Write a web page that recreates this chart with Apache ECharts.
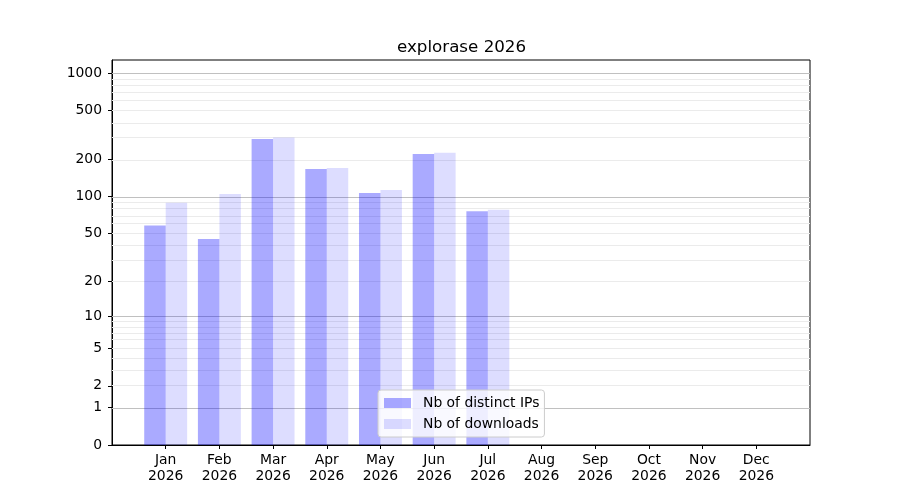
<!DOCTYPE html>
<html>
<head>
<meta charset="utf-8">
<script src="https://cdn.jsdelivr.net/npm/echarts@6/dist/echarts.min.js"></script>
<style>
  html, body { margin: 0; padding: 0; background: #fff; }
  #container { width: 900px; height: 500px; }
</style>
</head>
<body>
<div id="container"></div>
<script>
var months = ['Jan', 'Feb', 'Mar', 'Apr', 'May', 'Jun', 'Jul', 'Aug', 'Sep', 'Oct', 'Nov', 'Dec'];
var year = '2026';
var distinctIPs = [58, 45, 294, 168, 107, 222, 76, 0, 0, 0, 0, 0];
var downloads = [89, 105, 302, 171, 113, 227, 78, 0, 0, 0, 0, 0];
var yTicks = [0, 1, 2, 5, 10, 20, 50, 100, 200, 500, 1000];
var majorGrid = [1, 10, 100, 1000];
var minorGrid = [2, 3, 4, 5, 6, 7, 8, 9, 20, 30, 40, 50, 60, 70, 80, 90, 200, 300, 400, 500, 600, 700, 800, 900];

// y scale is log10(1 + x)
function tf(v) { return Math.log10(1 + v); }

// one empty slot on each side, like the reference x range
var cats = [''].concat(months.map(function (m) { return m + '\n' + year; })).concat(['']);
function pad(arr) { return [null].concat(arr.map(tf)).concat([null]); }

var font = 'DejaVu Sans';
var fs = 13.9;
var dom = document.getElementById('container');
var myChart = echarts.init(dom);

var gridLines = majorGrid.map(function (v) {
    return { yAxis: tf(v), lineStyle: { color: '#c0c0c0', width: 1, type: 'solid' } };
}).concat(minorGrid.map(function (v) {
    return { yAxis: tf(v), lineStyle: { color: '#ebebeb', width: 1, type: 'solid' } };
}));

var option = {
    animation: false,
    textStyle: { fontFamily: font },
    title: {
        text: 'explorase ' + year,
        left: 397,
        top: 39,
        padding: 0,
        textStyle: { fontFamily: font, fontSize: 16.7, fontWeight: 'normal', color: '#000' }
    },
    legend: {
        orient: 'vertical',
        left: 378,
        bottom: 63,
        itemWidth: 27,
        itemHeight: 10,
        itemGap: 5,
        padding: [5, 5, 5, 6],
        backgroundColor: 'rgba(255,255,255,0.8)',
        borderColor: '#cccccc',
        borderWidth: 1,
        borderRadius: 3,
        icon: 'rect',
        textStyle: { fontFamily: font, fontSize: fs, color: '#000', lineHeight: 16, padding: [0, 0, 0, 7] },
        data: ['Nb of distinct IPs', 'Nb of downloads']
    },
    grid: {
        left: 112,
        right: 90,
        top: 60,
        bottom: 55,
        show: true,
        borderColor: '#000',
        borderWidth: 1
    },
    xAxis: {
        type: 'category',
        data: cats,
        boundaryGap: false,
        axisLine: { lineStyle: { color: '#000', width: 1 } },
        axisTick: {
            length: 4,
            lineStyle: { color: '#000' },
            interval: function (i, v) { return v !== ''; }
        },
        axisLabel: {
            interval: 0,
            color: '#000',
            fontSize: fs,
            lineHeight: 16,
            margin: 7,
            fontFamily: font
        },
        splitLine: { show: false }
    },
    yAxis: {
        type: 'value',
        min: 0,
        max: 3.107,
        axisLine: { show: true, lineStyle: { color: '#000', width: 1 } },
        axisTick: {
            show: true,
            length: 4,
            lineStyle: { color: '#000' },
            customValues: yTicks.map(tf)
        },
        axisLabel: {
            color: '#000',
            fontSize: fs,
            margin: 10,
            fontFamily: font,
            customValues: yTicks.map(tf),
            formatter: function (v) { return String(Math.round(Math.pow(10, v) - 1)); }
        },
        splitLine: { show: false }
    },
    series: [
        {
            name: 'grid',
            type: 'line',
            data: [],
            z: 1,
            silent: true,
            markLine: {
                z: 1,
                silent: true,
                symbol: 'none',
                label: { show: false },
                animation: false,
                data: gridLines
            }
        },
        {
            name: 'Nb of distinct IPs',
            type: 'bar',
            data: pad(distinctIPs),
            z: 3,
            barGap: '0%',
            barCategoryGap: '20%',
            itemStyle: { color: 'rgba(0,0,255,0.333)' }
        },
        {
            name: 'Nb of downloads',
            type: 'bar',
            data: pad(downloads),
            z: 3,
            itemStyle: { color: 'rgba(0,0,255,0.135)' }
        }
    ]
};

if (option && typeof option === 'object') {
    myChart.setOption(option, true);
}
</script>
</body>
</html>
